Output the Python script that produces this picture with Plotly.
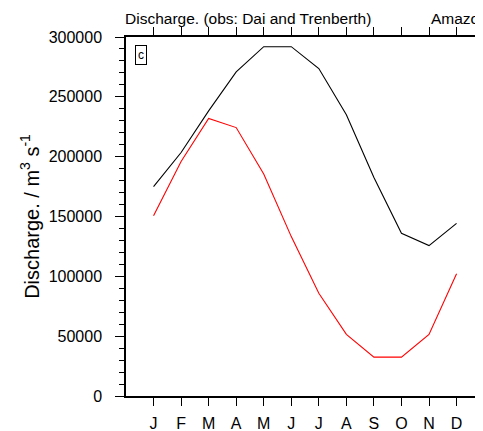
import plotly.graph_objects as go

months = ["J", "F", "M", "A", "M", "J", "J", "A", "S", "O", "N", "D"]
month_idx = list(range(1, 13))

# black: observations (Dai and Trenberth)
obs = [175000, 203500, 238300, 270800, 291900, 291900,
       273600, 235000, 182600, 136000, 125700, 144300]
# red: model
model = [150700, 196000, 231900, 224300, 185500, 133200,
         85900, 51500, 32500, 32500, 51500, 102100]

FONT = "Liberation Sans, Arial, Helvetica, sans-serif"

fig = go.Figure()
fig.add_trace(go.Scatter(x=month_idx, y=obs, mode="lines",
                         line=dict(color="black", width=1.1), showlegend=False))
fig.add_trace(go.Scatter(x=month_idx, y=model, mode="lines",
                         line=dict(color="red", width=1.1), showlegend=False))

# page body has an 8px default margin, so the figure is a bit smaller than the window
fig.update_layout(
    width=475,
    height=423,
    margin=dict(l=118, r=0, t=29, b=35),
    paper_bgcolor="white",
    plot_bgcolor="white",
    font=dict(family=FONT, color="black", size=16),
    xaxis=dict(
        range=[0, 12.96],
        tickmode="array",
        tickvals=month_idx,
        ticktext=months,
        ticks="outside",
        ticklen=8,
        tickwidth=1.2,
        tickcolor="black",
        showline=True,
        linecolor="black",
        linewidth=1.5,
        mirror="ticks",
        showgrid=False,
        zeroline=False,
        automargin=False,
        tickfont=dict(size=16),
        ticklabelstandoff=4,
    ),
    yaxis=dict(
        range=[0, 300000],
        tickmode="linear",
        tick0=0,
        dtick=50000,
        ticks="outside",
        ticklen=9,
        tickwidth=1.2,
        tickcolor="black",
        showline=True,
        linecolor="black",
        linewidth=1.5,
        showgrid=False,
        zeroline=False,
        automargin=False,
        tickformat="d",
        tickfont=dict(size=16),
        ticklabelstandoff=10,
        minor=dict(ticks="outside", dtick=10000, ticklen=5, tickcolor="black", tickwidth=1),
        title=dict(text="Discharge. / m<sup>3</sup> s<sup>-1</sup>",
                   font=dict(size=20), standoff=4),
    ),
    annotations=[
        dict(text="Discharge. (obs: Dai and Trenberth)", xref="paper", yref="paper",
             x=0, y=1, xanchor="left", yanchor="bottom", xshift=-3, yshift=8,
             showarrow=False, font=dict(size=15.5)),
        dict(text="Amazon", xref="paper", yref="paper",
             x=0.857, y=1, xanchor="left", yanchor="bottom", xshift=-3, yshift=8,
             showarrow=False, font=dict(size=15.5)),
        dict(text="c", xref="paper", yref="paper",
             x=0.025, y=0.977, xanchor="left", yanchor="top", showarrow=False,
             font=dict(size=12), bordercolor="black", borderwidth=1, borderpad=2,
             bgcolor="white"),
    ],
)

fig.write_html("out.html")
